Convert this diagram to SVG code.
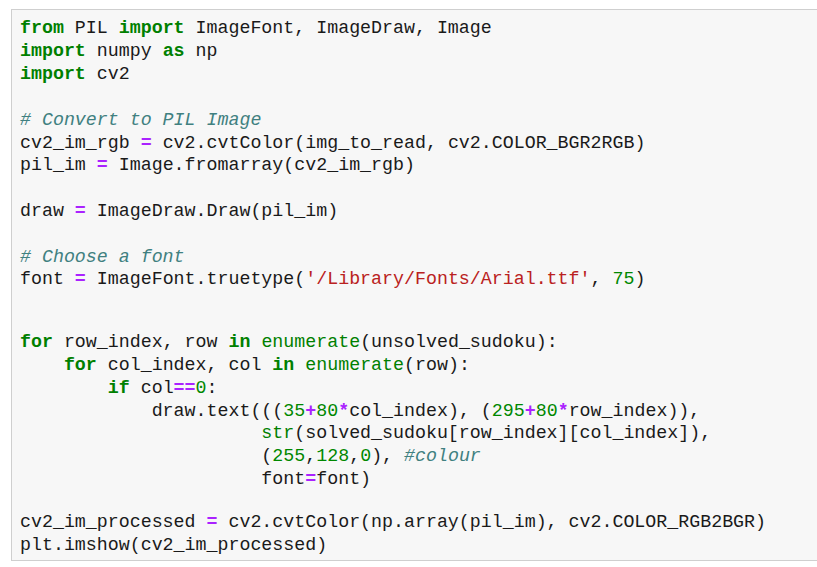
<svg xmlns="http://www.w3.org/2000/svg" width="817" height="567" viewBox="0 0 817 567">
<style>
text{font-family:"Liberation Mono","DejaVu Sans Mono",monospace;font-size:18.3px;fill:#1a1a1a;white-space:pre}
.k{fill:#008000;font-weight:bold}
.c{fill:#408080;font-style:italic}
.s{fill:#BA2121}
.n{fill:#008800}
.o{fill:#AA22FF;font-weight:bold}
.b{fill:#008000}
</style>
<rect width="817" height="567" fill="#ffffff"/>
<g id="cell">
<rect x="11.5" y="9.5" width="810" height="551" fill="#f7f7f7" stroke="#cfcfcf"/>
</g>
<g id="code" xml:space="preserve">
<text x="20" y="33"><tspan class="k">from</tspan> PIL <tspan class="k">import</tspan> ImageFont, ImageDraw, Image</text>
<text x="20" y="56"><tspan class="k">import</tspan> numpy <tspan class="k">as</tspan> np</text>
<text x="20" y="79"><tspan class="k">import</tspan> cv2</text>
<text x="20" y="125"><tspan class="c"># Convert to PIL Image</tspan></text>
<text x="20" y="148">cv2_im_rgb <tspan class="o">=</tspan> cv2.cvtColor(img_to_read, cv2.COLOR_BGR2RGB)</text>
<text x="20" y="170">pil_im <tspan class="o">=</tspan> Image.fromarray(cv2_im_rgb)</text>
<text x="20" y="216">draw <tspan class="o">=</tspan> ImageDraw.Draw(pil_im)</text>
<text x="20" y="262"><tspan class="c"># Choose a font</tspan></text>
<text x="20" y="284">font <tspan class="o">=</tspan> ImageFont.truetype(<tspan class="s">'/Library/Fonts/Arial.ttf'</tspan>, <tspan class="n">75</tspan>)</text>
<text x="20" y="347"><tspan class="k">for</tspan> row_index, row <tspan class="k">in</tspan> <tspan class="b">enumerate</tspan>(unsolved_sudoku):</text>
<text x="20" y="370">    <tspan class="k">for</tspan> col_index, col <tspan class="k">in</tspan> <tspan class="b">enumerate</tspan>(row):</text>
<text x="20" y="393">        <tspan class="k">if</tspan> col<tspan class="o">==</tspan><tspan class="n">0</tspan>:</text>
<text x="20" y="416">            draw.text(((<tspan class="n">35</tspan><tspan class="o">+</tspan><tspan class="n">80</tspan><tspan class="o">*</tspan>col_index), (<tspan class="n">295</tspan><tspan class="o">+</tspan><tspan class="n">80</tspan><tspan class="o">*</tspan>row_index)),</text>
<text x="20" y="438">                      <tspan class="b">str</tspan>(solved_sudoku[row_index][col_index]),</text>
<text x="20" y="461">                      (<tspan class="n">255</tspan>,<tspan class="n">128</tspan>,<tspan class="n">0</tspan>), <tspan class="c">#colour</tspan></text>
<text x="20" y="484">                      font<tspan class="o">=</tspan>font)</text>
<text x="20" y="527">cv2_im_processed <tspan class="o">=</tspan> cv2.cvtColor(np.array(pil_im), cv2.COLOR_RGB2BGR)</text>
<text x="20" y="550">plt.imshow(cv2_im_processed)</text>
</g>
</svg>
